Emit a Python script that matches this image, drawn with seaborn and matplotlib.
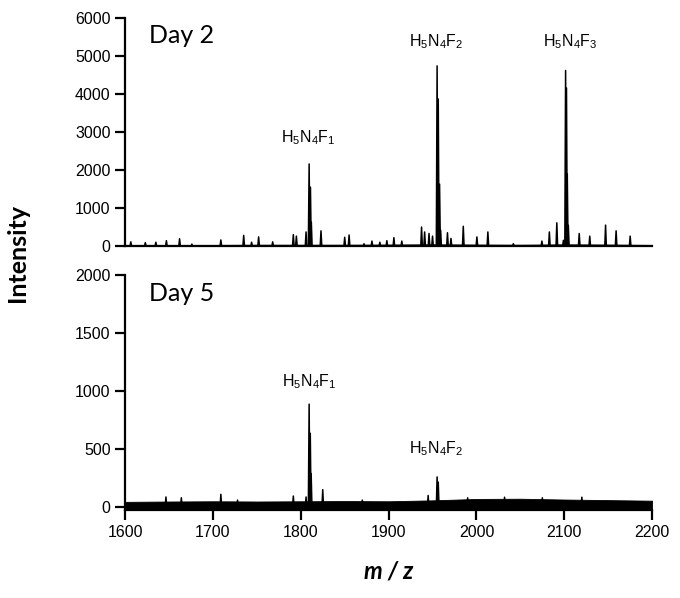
""" Stacked MALDI spectra, Day 2 vs Day 5 """

import pandas as pd
import numpy as np
import matplotlib.pyplot as plt
import seaborn as sns

#############
# Arguments #
#############
DPI = 100
label_font = ['Lato', 'DejaVu Sans']
tick_font = ['Liberation Sans', 'DejaVu Sans']
peak_halfwidth = 0.9

########
# Data #
########
# Day 2 peaks (m/z, intensity)
day2_mz = [1606.5, 1623, 1635, 1647, 1662, 1676, 1709, 1735, 1744, 1752,
           1768, 1791.5, 1795, 1806, 1809.5, 1811, 1812, 1823, 1850, 1855,
           1872, 1881, 1890, 1898, 1906, 1915, 1937.5, 1941, 1946, 1950,
           1955.2, 1956.5, 1958, 1959.2, 1967, 1971, 1985, 2000.5, 2013, 2042,
           2074.5, 2083, 2091.5, 2099, 2101.5, 2102.5, 2103.4, 2104.6, 2117,
           2129, 2147, 2159, 2175]
day2_int = [110, 90, 100, 140, 190, 50, 160, 280, 100, 240,
            110, 300, 260, 370, 2160, 1550, 630, 400, 230, 290,
            60, 130, 100, 140, 220, 130, 500, 370, 330, 260,
            4740, 3870, 1630, 420, 350, 200, 520, 240, 370, 60,
            130, 370, 610, 150, 4620, 4160, 1900, 550, 330,
            260, 550, 400, 260]

# Day 5 peaks (m/z, intensity)
day5_mz = [1646.5, 1664, 1709, 1728, 1791.5, 1806, 1809.5, 1810.8, 1811.8,
           1825, 1870, 1945, 1955.2, 1956.5, 1990, 2032, 2075, 2120]
day5_int = [87, 80, 110, 60, 95, 87, 887, 636, 290,
            150, 60, 100, 260, 215, 80, 85, 80, 85]

# Baseline noise level read every 50 m/z
noise_mz = [1600, 1650, 1700, 1750, 1800, 1850, 1900, 1950, 2000, 2050, 2100, 2150, 2200]
day2_noise = [30, 30, 30, 35, 35, 35, 40, 45, 40, 35, 45, 40, 30]
day5_noise = [45, 48, 50, 48, 50, 52, 50, 58, 70, 72, 65, 60, 55]

# Annotations
day2_labels = [r'H$_5$N$_4$F$_1$', r'H$_5$N$_4$F$_2$', r'H$_5$N$_4$F$_3$']
day2_label_pos = [(1808, 2850), (1954, 5390), (2107, 5390)]
day5_labels = [r'H$_5$N$_4$F$_1$', r'H$_5$N$_4$F$_2$']
day5_label_pos = [(1810, 1080), (1954, 506)]


def stick_frame(mz, inten):
    # each peak as a narrow triangle, one unit per peak
    rows = []
    for i, (m, h) in enumerate(zip(mz, inten)):
        rows.append({'peak': i, 'mz': m - peak_halfwidth, 'intensity': 0})
        rows.append({'peak': i, 'mz': m, 'intensity': h})
        rows.append({'peak': i, 'mz': m + peak_halfwidth, 'intensity': 0})
    return pd.DataFrame(rows)


day2 = stick_frame(day2_mz, day2_int)
day5 = stick_frame(day5_mz, day5_int)

#########
# Plots #
#########
sns.set_style('ticks')
plt.rcParams['font.family'] = tick_font
plt.rcParams['mathtext.default'] = 'regular'
for key in ['text.color', 'axes.labelcolor', 'xtick.color', 'ytick.color',
            'axes.edgecolor']:
    plt.rcParams[key] = 'black'

fig, (ax1, ax2) = plt.subplots(2, 1, figsize=(6.8, 5.98), dpi=DPI)
ax1.set_position([0.184, 0.5886, 0.775, 0.3813])
ax2.set_position([0.184, 0.1472, 0.775, 0.393])

panels = [(ax1, day2, day2_noise, (0, 6000), range(0, 6001, 1000), 'Day 2',
           day2_labels, day2_label_pos, 5530),
          (ax2, day5, day5_noise, (-25, 2000), range(0, 2001, 500), 'Day 5',
           day5_labels, day5_label_pos, 1840)]

for ax, df, noise, ylim, yt, title, labels, pos, title_y in panels:
    ax.fill_between(noise_mz, ylim[0], noise, color='black', lw=0.6)
    sns.lineplot(data=df, x='mz', y='intensity', units='peak', estimator=None,
                 color='black', lw=1.1, ax=ax)
    ax.set_xlim(1600, 2200)
    ax.set_ylim(*ylim)
    ax.set_yticks(list(yt))
    ax.set_xticks(range(1600, 2201, 100))
    ax.set_xlabel('')
    ax.set_ylabel('')
    sns.despine(ax=ax)
    for side in ['left', 'bottom']:
        ax.spines[side].set_linewidth(1.6)
    ax.tick_params(direction='out', length=7, width=1.6, labelsize=11.5,
                   colors='black')
    ax.text(1627, title_y, title, fontsize=18, family=label_font,
            ha='left', va='center')
    for txt, (x, y) in zip(labels, pos):
        ax.text(x, y, txt, fontsize=11.5, ha='center', va='center')

ax1.tick_params(axis='x', bottom=False, labelbottom=False)

ax2.set_xlabel('m / z', fontsize=17, family=label_font, fontweight='bold',
               style='italic', labelpad=14)
fig.text(0.026, 0.577, 'Intensity', rotation=90, fontsize=18,
         family=label_font, fontweight='bold', ha='center', va='center')

plt.savefig('out.png', dpi=DPI)
plt.close()
